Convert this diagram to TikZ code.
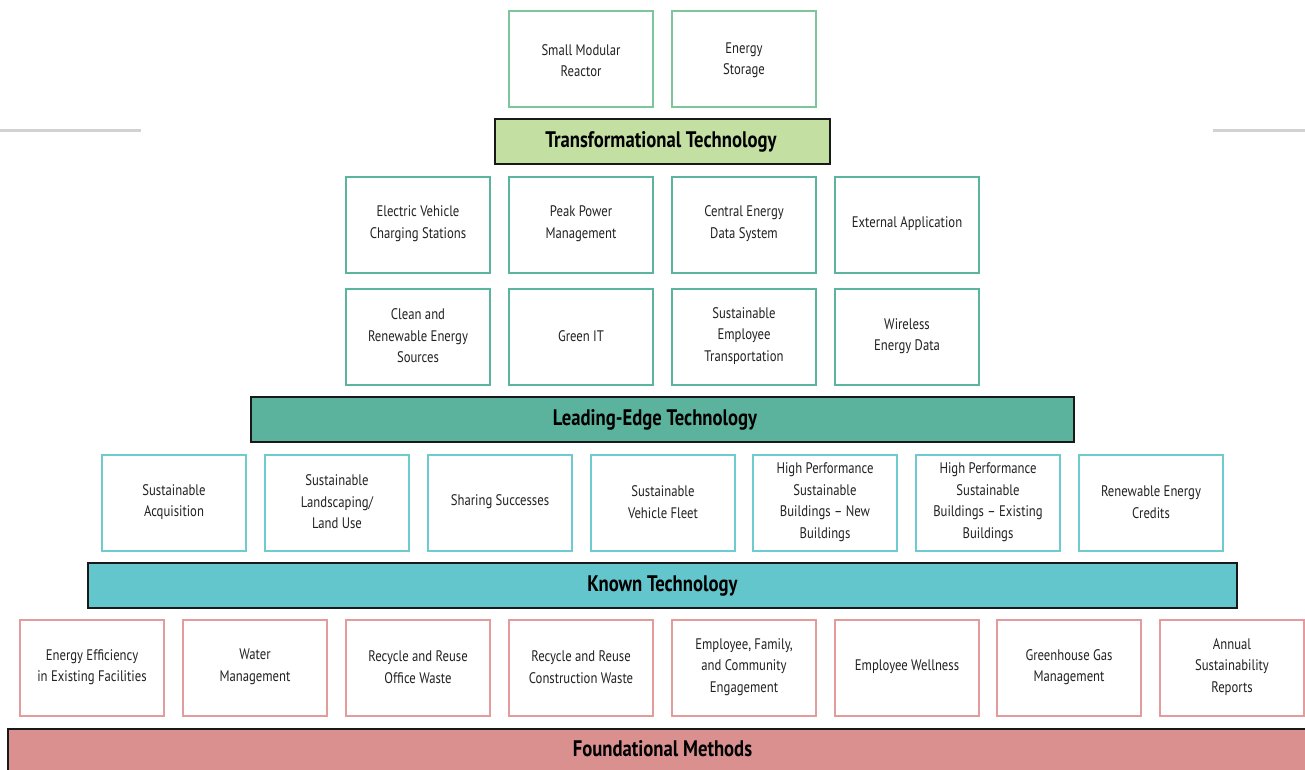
\documentclass[tikz,border=0pt]{standalone}
\usepackage{fontspec}
\setmainfont{PT Sans}[FakeStretch=0.83]
\definecolor{tgreen}{HTML}{7DC59B}
\definecolor{tfill}{HTML}{C3DFA2}
\definecolor{lgreen}{HTML}{5BB49E}
\definecolor{lfill}{HTML}{5BB39D}
\definecolor{kline}{HTML}{6ECCD1}
\definecolor{kfill}{HTML}{63C6CC}
\definecolor{fline}{HTML}{E29C9C}
\definecolor{ffill}{HTML}{DB9090}
\definecolor{txt}{HTML}{222222}
\definecolor{sep}{HTML}{D2D2D2}
\tikzset{
  itembox/.style={draw=#1, line width=2.8pt, fill=white, minimum width=144pt, minimum height=96pt, inner sep=0pt},
  itemtext/.style={text=txt, font=\fontsize{15.3}{21.5}\selectfont, align=center},
  bar/.style={draw=black!90, line width=2pt, fill=#1, inner sep=0pt},
  bartext/.style={font=\bfseries\fontsize{22.5}{26}\selectfont, text=black},
}
\begin{document}
\begin{tikzpicture}[x=1pt,y=-1pt]
\useasboundingbox (0,0) rectangle (1305,769);
% separator lines
\draw[sep, line width=3pt] (0,130) coordinate (sl1) -- (141,130) coordinate (sl2);
\draw[sep, line width=3pt] (1213,130) coordinate (sr1) -- (1305,130) coordinate (sr2);
% top row
\node[itembox=tgreen] (t1) at (581,59) {};
\node[itembox=tgreen] (t2) at (744,59) {};
\node[itemtext] (t1t) at (581,60.5) {Small Modular\\Reactor};
\node[itemtext] (t2t) at (744,60.5) {Energy\\Storage};
% Transformational bar
\node[bar=tfill, minimum width=335pt, minimum height=45pt] (tb) at (662.5,141.5) {};
\node[bartext] (tbt) at (661,141.5) {Transformational Technology};
% Leading-edge rows
\foreach \x/\n/\t in {418/a/{Electric Vehicle\\Charging Stations},581/b/{Peak Power\\Management},744/c/{Central Energy\\Data System},907/d/{External Application}}{
  \node[itembox=lgreen] (r2\n) at (\x,225) {};
  \node[itemtext] (r2\n t) at (\x,223.5) {\t};
}
\foreach \x/\n/\t in {418/a/{Clean and\\Renewable Energy\\Sources},581/b/{Green IT},744/c/{Sustainable\\Employee\\Transportation},907/d/{Wireless\\Energy Data}}{
  \node[itembox=lgreen] (r3\n) at (\x,337) {};
  \node[itemtext] (r3\n t) at (\x,336) {\t};
}
\node[bar=lfill, minimum width=823pt, minimum height=45pt] (lb) at (662.5,419.5) {};
\node[bartext] (lbt) at (655,419.5) {Leading-Edge Technology};
% Known row
\foreach \x/\n/\t in {174/a/{Sustainable\\Acquisition},337/b/{Sustainable\\Landscaping/\\Land Use},500/c/{Sharing Successes},663/d/{Sustainable\\Vehicle Fleet},825/e/{High Performance\\Sustainable\\Buildings -- New\\Buildings},988/f/{High Performance\\Sustainable\\Buildings -- Existing\\Buildings},1151/g/{Renewable Energy\\Credits}}{
  \node[itembox=kline] (r4\n) at (\x,503) {};
  \node[itemtext] (r4\n t) at (\x,502) {\t};
}
\node[bar=kfill, minimum width=1149pt, minimum height=45pt] (kb) at (662.5,585.5) {};
\node[bartext] (kbt) at (662.5,585.5) {Known Technology};
% Foundational row
\foreach \x/\n/\t in {92/a/{Energy Efficiency\\in Existing Facilities},255/b/{Water\\Management},418/c/{Recycle and Reuse\\Office Waste},581/d/{Recycle and Reuse\\Construction Waste},744/e/{Employee, Family,\\and Community\\Engagement},907/f/{Employee Wellness},1069/g/{Greenhouse Gas\\Management},1232/h/{Annual\\Sustainability\\Reports}}{
  \node[itembox=fline] (r5\n) at (\x,668) {};
  \node[itemtext] (r5\n t) at (\x,667) {\t};
}
\node[bar=ffill, minimum width=1310pt, minimum height=60pt, anchor=north west] (fb) at (7,728) {};
\node[bartext] (fbt) at (662.5,749) {Foundational Methods};
\end{tikzpicture}
\end{document}
